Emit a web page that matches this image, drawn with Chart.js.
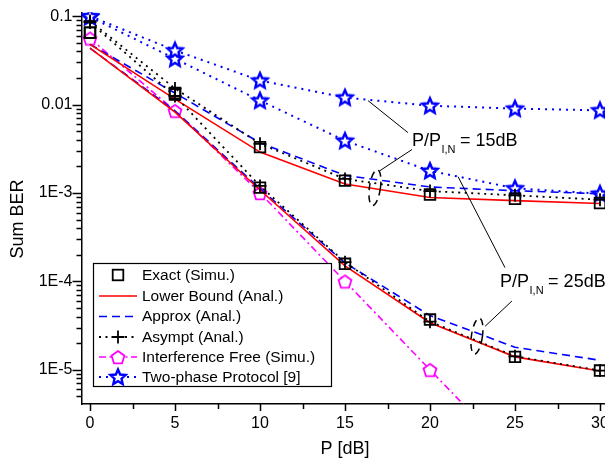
<!DOCTYPE html>
<html lang="en">
<head>
<meta charset="UTF-8">
<title>Sum BER vs P</title>
<script src="https://cdn.jsdelivr.net/npm/chart.js@4"></script>
<style>
  html, body { margin: 0; padding: 0; background: #fff; overflow: hidden; }
  #wrap { width: 640px; height: 459px; }
</style>
</head>
<body>
<div id="wrap"><canvas id="ber" width="640" height="459"></canvas></div>
<script>
// Values (P in dB, Sum BER)
const powerDb = [0, 5, 10, 15, 20, 25, 30];

const exact15 = [0.065, 0.0135, 0.0033, 0.00138, 0.00096, 0.00086, 0.00077];
const exact25 = [0.065, 0.0130, 0.00115, 0.000158, 3.7e-5, 1.4e-5, 9.8e-6];

const lower15 = [0.048, 0.0115, 0.0029, 0.00126, 0.00089, 0.00082, 0.00076];
const lower25 = [0.0435, 0.0082, 0.00108, 0.00015, 3.4e-5, 1.4e-5, 9.7e-6];

const approx15 = [0.048, 0.0135, 0.0037, 0.00158, 0.00117, 0.00106, 0.00098];
const approx25 = [0.0435, 0.0085, 0.00112, 0.000162, 4.1e-5, 1.8e-5, 1.28e-5];

const asympt15 = [0.088, 0.0152, 0.0036, 0.00144, 0.00105, 0.00094, 0.00084];
const asympt25 = [0.085, 0.0125, 0.0012, 0.000165, 3.5e-5, 1.42e-5, 9.8e-6];

const interfFree = [0.056, 0.0085, 0.001, 0.0001, 1.0e-5, 1.0e-6, 1.0e-7];

const twoPhase15 = [0.1, 0.041, 0.0187, 0.012, 0.0097, 0.009, 0.0086];
const twoPhase25 = [0.098, 0.033, 0.0111, 0.0039, 0.00178, 0.00113, 0.00098];

const xTicks = [0, 5, 10, 15, 20, 25, 30];
const yTicks = [1e-5, 1e-4, 1e-3, 1e-2, 1e-1];
const yTickLabels = ['1E-5', '1E-4', '1E-3', '0.01', '0.1'];

const legendLabels = [
  'Exact (Simu.)',
  'Lower Bound (Anal.)',
  'Approx (Anal.)',
  'Asympt (Anal.)',
  'Interference Free (Simu.)',
  'Two-phase Protocol [9]'
];

const FONT = '"Liberation Sans", Arial, Helvetica, sans-serif';
const RED = '#ff0000', BLUE = '#0000ff', MAGENTA = '#ff00ff', BLACK = '#000000';

// marker images (pentagon, 5-point star)
function makeMarker(kind) {
  const c = document.createElement('canvas');
  const s = kind === 'star' ? 22 : 18;
  c.width = s; c.height = s;
  const g = c.getContext('2d');
  const cx = s / 2, cy = s / 2;
  g.beginPath();
  if (kind === 'star') {
    const ro = 8, ri = 3.7;
    for (let i = 0; i < 10; i++) {
      const r = i % 2 ? ri : ro;
      const a = -Math.PI / 2 + i * Math.PI / 5;
      g.lineTo(cx + r * Math.cos(a), cy + 0.5 + r * Math.sin(a));
    }
    g.closePath();
    g.fillStyle = '#fff'; g.fill();
    g.strokeStyle = BLUE; g.lineWidth = 2.4; g.lineJoin = 'miter';
  } else {
    const r = 6.8;
    for (let i = 0; i < 5; i++) {
      const a = -Math.PI / 2 + i * 2 * Math.PI / 5;
      g.lineTo(cx + r * Math.cos(a), cy + 0.8 + r * Math.sin(a));
    }
    g.closePath();
    g.fillStyle = '#fff'; g.fill();
    g.strokeStyle = MAGENTA; g.lineWidth = 1.8;
  }
  g.stroke();
  return c;
}
const pentagon = makeMarker('pentagon');
const star = makeMarker('star');

const pts = (arr) => powerDb.map((p, i) => ({ x: p, y: arr[i] }));

const styles = {
  exact: { showLine: false, pointStyle: 'rect', pointRadius: 7.5, borderColor: BLACK, backgroundColor: 'rgba(0,0,0,0)', pointBorderWidth: 1.8 },
  asympt: { borderColor: BLACK, borderWidth: 1.8, borderDash: [2, 4.5], pointStyle: 'cross', pointRadius: 6.5, pointBorderWidth: 1.8 },
  lower: { borderColor: RED, borderWidth: 1.6, pointRadius: 0 },
  approx: { borderColor: BLUE, borderWidth: 1.6, borderDash: [8, 5], pointRadius: 0 },
  free: { borderColor: MAGENTA, borderWidth: 1.6, borderDash: [7, 3.5, 2, 3.5], pointStyle: pentagon },
  twoPhase: { borderColor: BLUE, borderWidth: 2, borderDash: [2, 5], pointStyle: star }
};

const datasets = [
  { label: legendLabels[0], data: pts(exact15), ...styles.exact },
  { label: legendLabels[0], data: pts(exact25), ...styles.exact },
  { label: legendLabels[3], data: pts(asympt15), ...styles.asympt },
  { label: legendLabels[3], data: pts(asympt25), ...styles.asympt },
  { label: legendLabels[1], data: pts(lower15), ...styles.lower },
  { label: legendLabels[1], data: pts(lower25), ...styles.lower },
  { label: legendLabels[2], data: pts(approx15), ...styles.approx },
  { label: legendLabels[2], data: pts(approx25), ...styles.approx },
  { label: legendLabels[4], data: pts(interfFree), ...styles.free },
  { label: legendLabels[5], data: pts(twoPhase15), ...styles.twoPhase },
  { label: legendLabels[5], data: pts(twoPhase25), ...styles.twoPhase }
].map(d => Object.assign({ tension: 0, fill: false, clip: 0 }, d));

// annotation anchors in data units (P, BER)
const notes = [
  { text: '15dB', at: [18.94, 0.00344],
    leaders: [[[16.35, 0.0111], [18.7, 0.00482]], [[18.94, 0.0031], [17.06, 0.00179]]],
    ellipse: [16.76, 0.00115] },
  { text: '25dB', at: [24.12, 8.7e-5],
    leaders: [[[21.65, 0.00153], [24.41, 0.000143]], [[24.82, 6.0e-5], [23.24, 3.1e-5]]],
    ellipse: [22.76, 2.4e-5] }
];

function drawMarker(ctx, kind, x, y) {
  ctx.save();
  ctx.strokeStyle = BLACK; ctx.lineWidth = 1.8; ctx.setLineDash([]);
  if (kind === 'rect') {
    ctx.strokeRect(x - 5.3, y - 5.3, 10.6, 10.6);
  } else if (kind === 'cross') {
    ctx.beginPath();
    ctx.moveTo(x - 6.5, y); ctx.lineTo(x + 6.5, y);
    ctx.moveTo(x, y - 6.5); ctx.lineTo(x, y + 6.5);
    ctx.stroke();
  } else {
    ctx.drawImage(kind, x - kind.width / 2, y - kind.height / 2);
  }
  ctx.restore();
}

const decor = {
  id: 'decor',
  afterDraw(chart) {
    const { ctx, chartArea: a, scales: { x, y } } = chart;
    const px = (p, v) => [x.getPixelForValue(p), y.getPixelForValue(v)];
    ctx.save();

    // tick marks, outward
    ctx.strokeStyle = BLACK; ctx.lineWidth = 1.5;
    ctx.beginPath();
    for (let d = -6; d <= -1; d++) {
      for (let k = 1; k <= 9; k++) {
        const v = k * Math.pow(10, d);
        if (v < y.min || v > y.max) continue;
        const yy = Math.round(y.getPixelForValue(v)) + 0.5;
        ctx.moveTo(a.left, yy);
        ctx.lineTo(a.left - (k === 1 ? 9 : 5), yy);
      }
    }
    for (let p = 0; p <= 30; p += 2.5) {
      const xx = Math.round(x.getPixelForValue(p)) + 0.5;
      ctx.moveTo(xx, a.bottom);
      ctx.lineTo(xx, a.bottom + (p % 5 === 0 ? 7 : 5));
    }
    ctx.stroke();

    // axis titles
    ctx.fillStyle = BLACK;
    ctx.font = '18px ' + FONT;
    ctx.textAlign = 'center'; ctx.textBaseline = 'middle';
    ctx.fillText('P [dB]', 345, 449);
    ctx.save();
    ctx.translate(18, 219);
    ctx.rotate(-Math.PI / 2);
    ctx.fillText('Sum BER', 0, 0);
    ctx.restore();

    // annotations
    notes.forEach(n => {
      ctx.strokeStyle = BLACK; ctx.lineWidth = 1; ctx.setLineDash([]);
      n.leaders.forEach(([p0, p1]) => {
        const [x0, y0] = px(...p0), [x1, y1] = px(...p1);
        ctx.beginPath(); ctx.moveTo(x0, y0); ctx.lineTo(x1, y1); ctx.stroke();
      });
      const [ex, ey] = px(...n.ellipse);
      ctx.lineWidth = 1.5; ctx.setLineDash([7, 5]);
      ctx.beginPath(); ctx.ellipse(ex, ey, 5.5, 18, 0.14, 0, Math.PI * 2); ctx.stroke();
      ctx.setLineDash([]);
      const [tx, ty] = px(...n.at);
      ctx.textAlign = 'left'; ctx.textBaseline = 'alphabetic';
      ctx.font = '18px ' + FONT;
      ctx.fillText('P/P', tx, ty);
      let w = ctx.measureText('P/P').width;
      ctx.font = '11px ' + FONT;
      ctx.fillText('I,N', tx + w + 0.5, ty + 7);
      w += ctx.measureText('I,N').width + 5;
      ctx.font = '18px ' + FONT;
      ctx.fillText('= ' + n.text, tx + w, ty);
    });

    // legend box
    const lx = 93, ly = 263, lw = 238, lh = 123;
    ctx.fillStyle = '#fff';
    ctx.fillRect(lx, ly, lw, lh);
    ctx.strokeStyle = BLACK; ctx.lineWidth = 1.2;
    ctx.strokeRect(lx + 0.5, ly + 0.5, lw, lh);
    const rows = [275, 296, 316.5, 337, 357, 377];
    const samples = [
      { line: null, mark: 'rect' },
      { line: styles.lower },
      { line: styles.approx },
      { line: styles.asympt, mark: 'cross' },
      { line: styles.free, mark: pentagon },
      { line: styles.twoPhase, mark: star }
    ];
    samples.forEach((s, i) => {
      const ry = rows[i];
      if (s.line) {
        ctx.save();
        ctx.strokeStyle = s.line.borderColor; ctx.lineWidth = s.line.borderWidth;
        ctx.setLineDash(s.line.borderDash || []);
        ctx.beginPath(); ctx.moveTo(99, ry); ctx.lineTo(137, ry); ctx.stroke();
        ctx.restore();
      }
      if (s.mark) drawMarker(ctx, s.mark, 118, ry);
      ctx.fillStyle = BLACK;
      ctx.font = '15.5px ' + FONT;
      ctx.textAlign = 'left'; ctx.textBaseline = 'middle';
      ctx.fillText(legendLabels[i], 142, ry + 0.5);
    });
    ctx.restore();
  }
};

new Chart(document.getElementById('ber'), {
  type: 'line',
  data: { datasets },
  plugins: [decor],
  options: {
    responsive: false,
    animation: false,
    events: [],
    layout: { padding: { top: 12.5, right: 23, left: 0, bottom: 0 } },
    plugins: { legend: { display: false }, tooltip: { enabled: false } },
    scales: {
      x: {
        type: 'linear', min: -0.5, max: 31,
        afterBuildTicks: (s) => { s.ticks = xTicks.map(v => ({ value: v })); },
        afterFit: (s) => { s.height = 55; s.paddingLeft = 0; s.paddingRight = 0; },
        grid: { display: true, drawOnChartArea: false, drawTicks: false },
        border: { display: true, color: BLACK, width: 1.5 },
        ticks: { color: BLACK, padding: 10, maxRotation: 0, font: { family: FONT, size: 16 } }
      },
      y: {
        type: 'logarithmic', min: 4.1e-6, max: 0.11,
        afterBuildTicks: (s) => { s.ticks = yTicks.map(v => ({ value: v })); },
        afterFit: (s) => { s.width = 81.5; s.paddingTop = 0; s.paddingBottom = 0; },
        grid: { display: true, drawOnChartArea: false, drawTicks: false },
        border: { display: true, color: BLACK, width: 1.5 },
        ticks: {
          color: BLACK, padding: 9, font: { family: FONT, size: 16 },
          callback: (v) => { const i = yTicks.findIndex(t => Math.abs(t - v) / t < 1e-6); return i < 0 ? '' : yTickLabels[i]; }
        }
      }
    }
  }
});
</script>
</body>
</html>
